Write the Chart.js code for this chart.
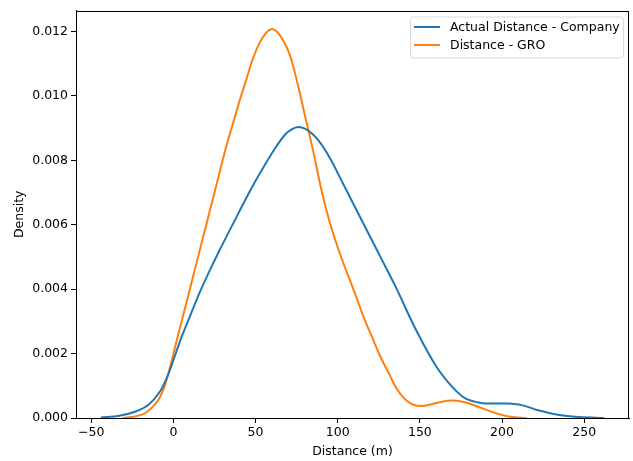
<!DOCTYPE html>
<html>
<head>
<meta charset="utf-8">
<script src="https://cdn.jsdelivr.net/npm/chart.js@4.4.1/dist/chart.umd.min.js"></script>
<style>
  html, body { margin: 0; padding: 0; background: #fff; }
  #wrap { width: 633px; height: 461px; }
</style>
</head>
<body>
<div id="wrap"><canvas id="kdeChart"></canvas></div>
<script>
// KDE curves
const companyX = [-44, -33, -23, -15, -8.5, -4, 0, 4, 8, 12, 16, 20, 24, 28, 33, 40, 48, 55, 62, 68, 72, 76, 80, 85, 90, 96, 102, 108, 117, 127, 135, 148, 160, 170, 178, 188, 196, 203, 212, 222, 235, 247, 262];
const companyY = [0.00002, 0.00007, 0.0002, 0.00042, 0.0008, 0.00125, 0.0018, 0.00238, 0.0029, 0.0034, 0.0039, 0.00435, 0.00478, 0.0052, 0.0057, 0.0064, 0.00718, 0.0078, 0.00838, 0.0088, 0.00896, 0.00903, 0.00898, 0.0088, 0.0085, 0.0080, 0.0074, 0.0068, 0.0059, 0.0049, 0.0041, 0.0027, 0.0016, 0.00095, 0.0006, 0.00046, 0.00045, 0.00045, 0.0004, 0.00024, 0.00009, 0.00003, 0.0];

const groX = [-31, -23, -16.6, -10, -6, -3, 0, 4, 8, 12, 16, 20, 24, 28, 32, 36, 40, 44, 48, 52, 56, 59.4, 63, 67, 71, 75, 80, 85, 90, 95, 100, 105, 111, 116, 121, 126, 131, 136, 141, 146, 151, 156, 162, 170, 178, 188, 198, 205, 215];
const groY = [0, 0.00005, 0.00017, 0.0005, 0.0009, 0.0014, 0.002, 0.0028, 0.0036, 0.0044, 0.0052, 0.006, 0.0068, 0.0076, 0.0084, 0.0091, 0.0098, 0.01045, 0.0111, 0.0116, 0.01193, 0.01207, 0.01199, 0.0117, 0.01125, 0.0105, 0.0094, 0.0083, 0.0071, 0.0061, 0.0053, 0.0046, 0.0038, 0.0031, 0.0025, 0.0019, 0.0014, 0.0009, 0.00058, 0.00041, 0.00037, 0.00041, 0.00049, 0.00054, 0.00048, 0.0003, 0.00012, 0.00004, 0.0];

const seriesNames = ["Actual Distance - Company", "Distance - GRO"];
const xTicks = [-50, 0, 50, 100, 150, 200, 250];
const yTicks = [0, 0.002, 0.004, 0.006, 0.008, 0.010, 0.012];

const FONT = "'DejaVu Sans', sans-serif";

function toPoints(xs, ys) {
  return xs.map(function (x, i) { return { x: x, y: ys[i] }; });
}

// frame around the plot + matplotlib style legend box
const framePlugin = {
  id: "frame",
  afterDraw: function (chart) {
    const ctx = chart.ctx;
    const a = chart.chartArea;
    ctx.save();
    ctx.strokeStyle = "#000";
    ctx.lineWidth = 1;
    ctx.strokeRect(Math.round(a.left) + 0.5, Math.round(a.top) + 0.5,
      Math.round(a.right - a.left) - 1, Math.round(a.bottom - a.top) - 1);

    // legend
    const right = a.right - 6, top = a.top + 6;
    const w = 213, h = 41;
    const left = right - w;
    ctx.fillStyle = "rgba(255,255,255,0.8)";
    ctx.strokeStyle = "#d9d9d9";
    ctx.beginPath();
    ctx.roundRect(left + 0.5, top + 0.5, w, h, 3);
    ctx.fill();
    ctx.stroke();
    ctx.font = "12.5px " + FONT;
    ctx.textBaseline = "middle";
    chart.data.datasets.forEach(function (ds, i) {
      const y = top + 10.5 + i * 18;
      ctx.strokeStyle = ds.borderColor;
      ctx.lineWidth = 2;
      ctx.beginPath();
      ctx.moveTo(left + 4, y);
      ctx.lineTo(left + 30, y);
      ctx.stroke();
      ctx.fillStyle = "#000";
      ctx.fillText(ds.label, left + 40, y + 0.5);
    });
    ctx.restore();
  }
};

const ctx = document.getElementById("kdeChart").getContext("2d");

new Chart(ctx, {
  type: "scatter",
  data: {
    datasets: [
      {
        label: seriesNames[0],
        data: toPoints(companyX, companyY),
        showLine: true,
        borderColor: "#1f77b4",
        backgroundColor: "#1f77b4",
        borderWidth: 2,
        pointRadius: 0,
        tension: 0.35,
      },
      {
        label: seriesNames[1],
        data: toPoints(groX, groY),
        showLine: true,
        borderColor: "#ff7f0e",
        backgroundColor: "#ff7f0e",
        borderWidth: 2,
        pointRadius: 0,
        tension: 0.35,
      },
    ],
  },
  options: {
    responsive: true,
    maintainAspectRatio: false,
    animation: false,
    layout: { padding: { top: 7, right: 4, left: 0, bottom: 0 } },
    plugins: {
      legend: { display: false },
      tooltip: { enabled: false },
    },
    scales: {
      x: {
        type: "linear",
        min: -59.3,
        max: 277.3,
        afterFit: function (scale) { scale.height = 43; },
        afterBuildTicks: function (scale) {
          scale.ticks = xTicks.map(function (v) { return { value: v }; });
        },
        ticks: {
          color: "#000",
          font: { family: FONT, size: 12.5 },
          padding: 2,
          maxRotation: 0,
          callback: function (v) { return v < 0 ? "\u2212" + Math.abs(v) : String(v); },
        },
        grid: { drawOnChartArea: false, drawTicks: true, tickLength: 5, color: "#000" },
        border: { color: "#000" },
        title: {
          display: true,
          text: "Distance (m)",
          color: "#000",
          font: { family: FONT, size: 12.5 },
          padding: { top: 0, bottom: 2 },
        },
      },
      y: {
        type: "linear",
        min: 0,
        max: 0.01265,
        afterFit: function (scale) { scale.width = 76; },
        afterBuildTicks: function (scale) {
          scale.ticks = yTicks.map(function (v) { return { value: v }; });
        },
        ticks: {
          color: "#000",
          font: { family: FONT, size: 12.5 },
          padding: 3,
          callback: function (v) { return v.toFixed(3); },
        },
        grid: { drawOnChartArea: false, drawTicks: true, tickLength: 5, color: "#000" },
        border: { color: "#000" },
        title: {
          display: true,
          text: "Density",
          color: "#000",
          font: { family: FONT, size: 12.5 },
          padding: { top: 12, bottom: 0 },
        },
      },
    },
  },
  plugins: [framePlugin],
});
</script>
</body>
</html>
